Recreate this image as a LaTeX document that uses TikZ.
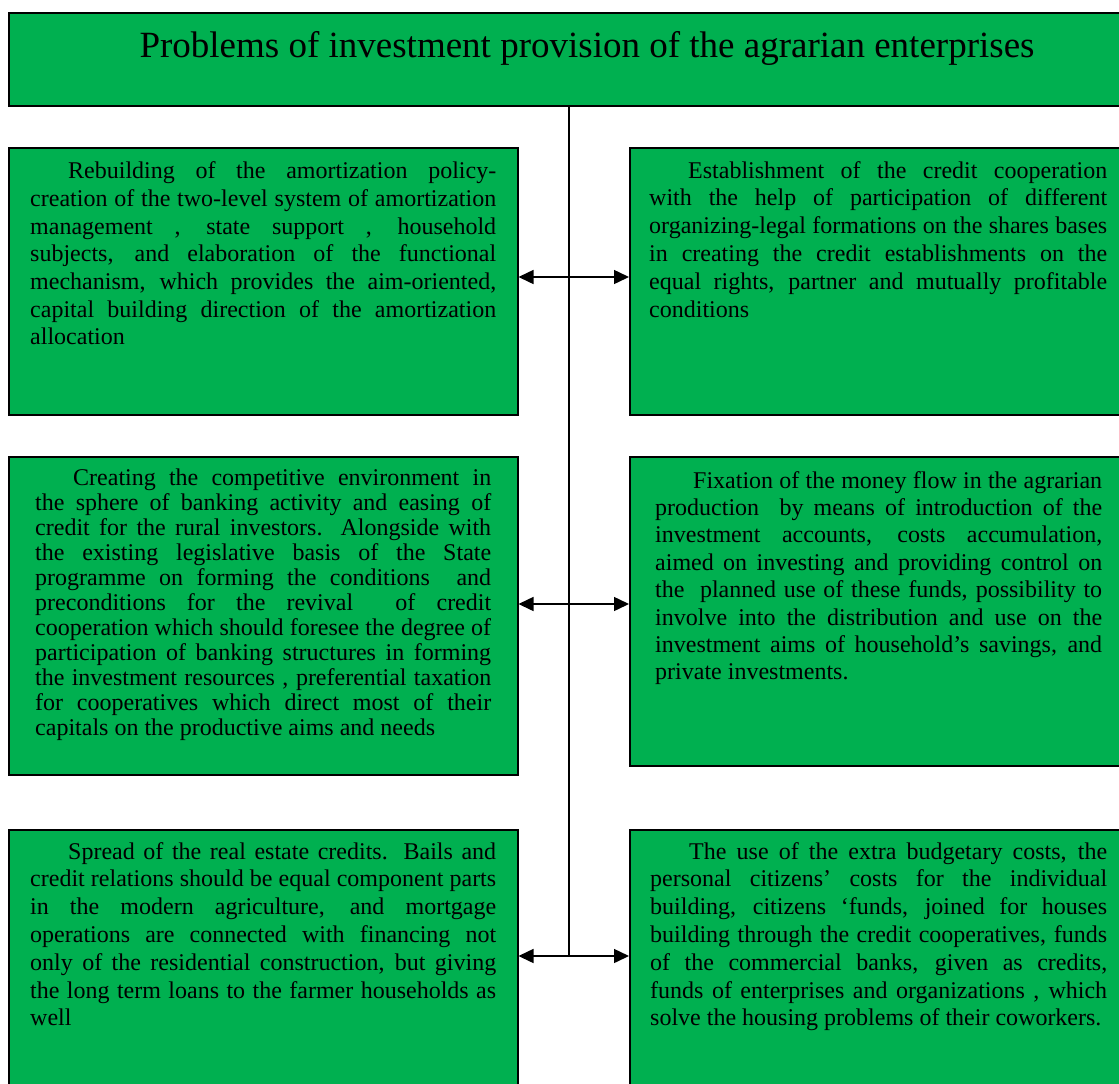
\documentclass[tikz,border=0pt]{standalone}
\usepackage{fontspec}
\setmainfont{Liberation Serif}
\usetikzlibrary{arrows.meta,calc}
\definecolor{boxgreen}{RGB}{0,176,80}
\begin{document}
\begin{tikzpicture}[x=1pt,y=-1pt,
  box/.style={draw=black, line width=1.5pt, fill=boxgreen, rectangle, inner sep=0pt, anchor=north west},
  txt/.style={anchor=base west, inner sep=0pt, align=justify,
    execute at begin node={\tolerance=10000\hyphenpenalty=10000\exhyphenpenalty=10000}},
  link/.style={line width=1.5pt, {Triangle[length=15pt,width=14pt]}-{Triangle[length=15pt,width=14pt]}},
  spine/.style={line width=1.5pt}]
\path[use as bounding box] (0,0) rectangle (1119,1084);
\clip (0,0) rectangle (1119,1084);
% boxes
\node[box, minimum width=1200pt, minimum height=93pt] (title) at (8,12) {};
\node[box, minimum width=509pt, minimum height=267pt] (l1) at (8,147) {};
\node[box, minimum width=520pt, minimum height=267pt] (r1) at (629,147) {};
\node[box, minimum width=509pt, minimum height=318pt] (l2) at (8,456) {};
\node[box, minimum width=520pt, minimum height=309pt] (r2) at (629,456) {};
\node[box, minimum width=509pt, minimum height=280pt] (l3) at (8,829) {};
\node[box, minimum width=520pt, minimum height=280pt] (r3) at (629,829) {};
% title text
\node[anchor=base, inner sep=0pt, font=\fontsize{37}{44}\selectfont] (ttl) at (587,57)
  {Problems of investment provision of the agrarian enterprises};
% connectors
\coordinate (a1) at (569,277);
\coordinate (a2) at (569,604);
\coordinate (a3) at (569,956);
\draw[spine] (title.south -| a3) -- (a3);
\draw[link] (l1.east |- a1) -- (r1.west |- a1);
\draw[link] (l2.east |- a2) -- (r2.west |- a2);
\draw[link] (l3.east |- a3) -- (r3.west |- a3);
% texts
\node[txt, text width=466pt, font=\fontsize{24}{27.7}\selectfont] (l1t) at (30,178.6)
{\hspace*{38pt}Rebuilding of the amortization policy-\linebreak
creation of the two-level system of amortization\linebreak
management , state support , household\linebreak
subjects, and elaboration of the functional\linebreak
mechanism, which provides the aim-oriented,\linebreak
capital building direction of the amortization\linebreak
allocation};
\node[txt, text width=458pt, font=\fontsize{24}{27.8}\selectfont] (r1t) at (649,178)
{\hspace*{39pt}Establishment of the credit cooperation\linebreak
with the help of participation of different\linebreak
organizing-legal formations on the shares bases\linebreak
in creating the credit establishments on the\linebreak
equal rights, partner and mutually profitable\linebreak
conditions};
\node[txt, text width=456pt, font=\fontsize{24}{25}\selectfont] (l2t) at (35,485)
{\hspace*{38pt}Creating the competitive environment in\linebreak
the sphere of banking activity and easing of\linebreak
credit for the rural investors. Alongside with\linebreak
the existing legislative basis of the State\linebreak
programme on forming the conditions \ and\linebreak
preconditions for the revival \ of credit\linebreak
cooperation which should foresee the degree of\linebreak
participation of banking structures in forming\linebreak
the investment resources , preferential taxation\linebreak
for cooperatives which direct most of their\linebreak
capitals on the productive aims and needs};
\node[txt, text width=447pt, font=\fontsize{24}{27.4}\selectfont] (r2t) at (655,488)
{\hspace*{38pt}Fixation of the money flow in the agrarian\linebreak
production \ by means of introduction of the\linebreak
investment accounts, costs accumulation,\linebreak
aimed on investing and providing control on\linebreak
the \ planned use of these funds, possibility to\linebreak
involve into the distribution and use on the\linebreak
investment aims of household’s savings, and\linebreak
private investments.};
\node[txt, text width=466pt, font=\fontsize{24}{27.8}\selectfont] (l3t) at (30,859)
{\hspace*{38pt}Spread of the real estate credits. Bails and\linebreak
credit relations should be equal component parts\linebreak
in the modern agriculture, and mortgage\linebreak
operations are connected with financing not\linebreak
only of the residential construction, but giving\linebreak
the long term loans to the farmer households as\linebreak
well};
\node[txt, text width=457pt, font=\fontsize{24}{27.8}\selectfont] (r3t) at (650,859)
{\hspace*{39pt}The use of the extra budgetary costs, the\linebreak
personal citizens’ costs for the individual\linebreak
building, citizens ‘funds, joined for houses\linebreak
building through the credit cooperatives, funds\linebreak
of the commercial banks, given as credits,\linebreak
funds of enterprises and organizations , which\linebreak
solve the housing problems of their coworkers.};
\end{tikzpicture}
\end{document}
